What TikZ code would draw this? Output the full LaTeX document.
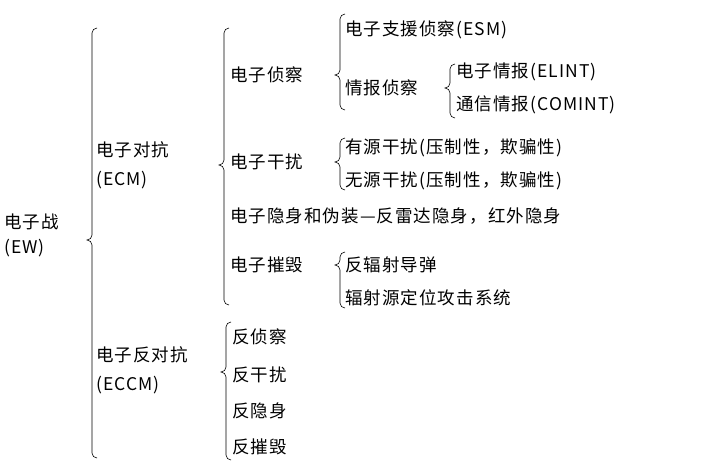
\documentclass[tikz,border=0pt]{standalone}
\usepackage{fontspec}
\setmainfont{Noto Sans CJK SC}[LetterSpace=6]
\newcommand\mybrace[4]{% x, top, tip, bottom
 \draw[brc] ({#1+5},#2) to[out=180,in=90] (#1,{#2+5}) -- (#1,{#3-5}) to[out=-90,in=0] ({#1-5},#3)
   to[out=0,in=90] (#1,{#3+5}) -- (#1,{#4-5}) to[out=-90,in=180] ({#1+5},#4);}
\begin{document}
\begin{tikzpicture}[x=1pt,y=-1pt,
 t/.style={anchor=west,inner sep=0pt,font=\fontsize{17.5}{20}\selectfont},
 brc/.style={line width=0.6pt}]
\useasboundingbox (0,0) rectangle (706,469);
\node[t] (ew) at (4,222) {电子战};
\node[t] (ew2) at (4,248) {(EW)};
\mybrace{92}{28}{240}{458}
\node[t] (ecm) at (96,150) {电子对抗};
\node[t] (ecm2) at (96,180) {(ECM)};
\mybrace{224}{28}{165}{305}
\node[t] (zc) at (230,75) {电子侦察};
\mybrace{340}{14}{75}{110}
\node[t] (esm) at (345,30) {电子支援侦察(ESM)};
\node[t] (qb) at (345,88) {情报侦察};
\mybrace{450}{64}{88}{118}
\node[t] (elint) at (456,72) {电子情报(ELINT)};
\node[t] (comint) at (456,105) {通信情报(COMINT)};
\node[t] (gr) at (230,162) {电子干扰};
\mybrace{340}{138}{162}{190}
\node[t] (yy) at (345,148) {有源干扰(压制性，欺骗性)};
\node[t] (wy) at (345,181) {无源干扰(压制性，欺骗性)};
\node[t] (ys) at (230,216) {电子隐身和伪装—反雷达隐身，红外隐身};
\node[t] (ch) at (230,265) {电子摧毁};
\mybrace{340}{252}{265}{308}
\node[t] (ffs) at (345,265) {反辐射导弹};
\node[t] (fsy) at (345,298) {辐射源定位攻击系统};
\node[t] (eccm) at (96,355) {电子反对抗};
\node[t] (eccm2) at (96,385) {(ECCM)};
\mybrace{226}{322}{372}{460}
\node[t] (a1) at (232,337) {反侦察};
\node[t] (a2) at (232,375) {反干扰};
\node[t] (a3) at (232,411) {反隐身};
\node[t] (a4) at (232,447) {反摧毁};
\end{tikzpicture}
\end{document}
